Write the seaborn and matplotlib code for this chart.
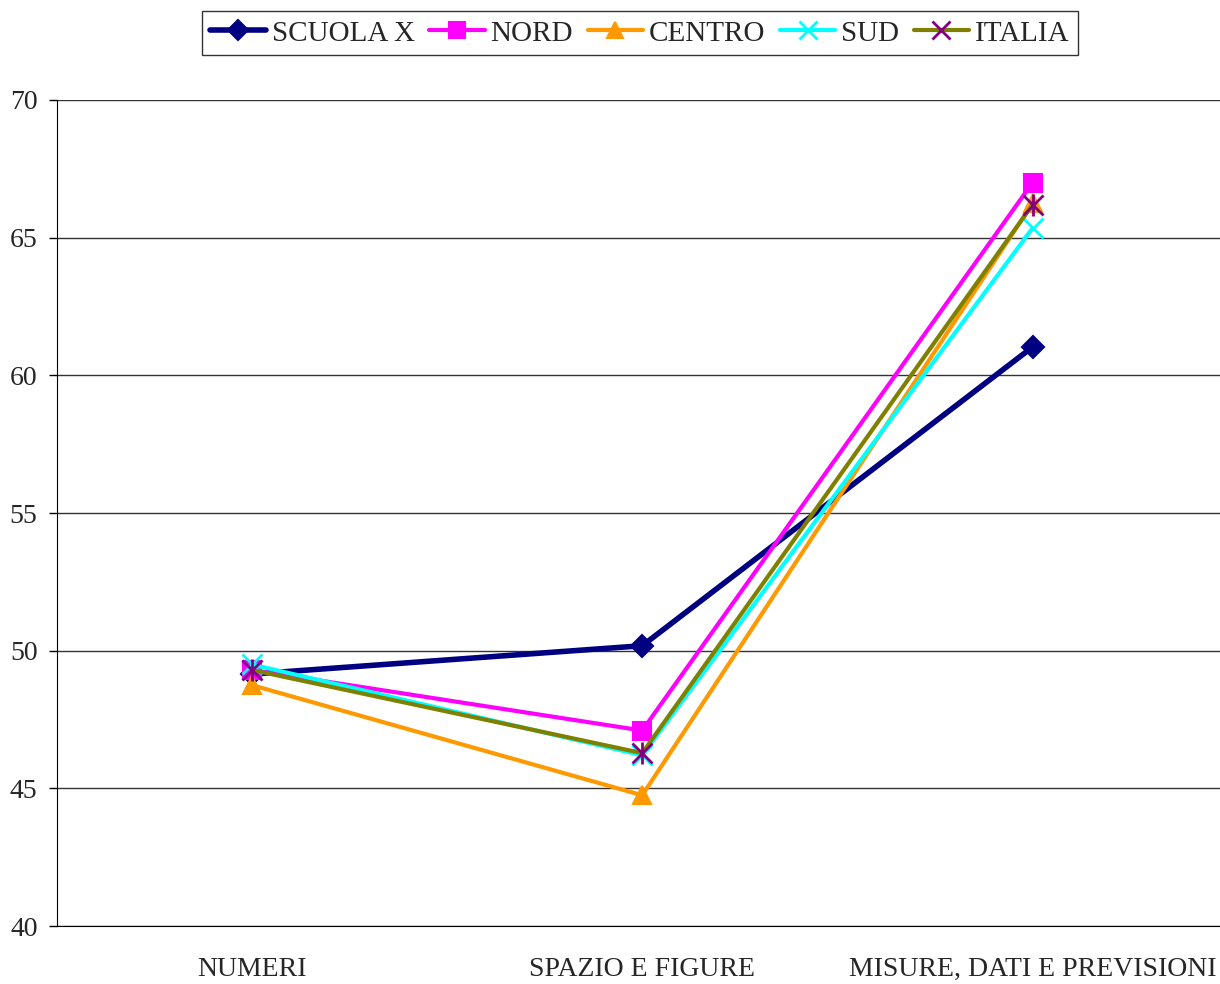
import numpy as np
import pandas as pd
import matplotlib
matplotlib.use("Agg")
import matplotlib.pyplot as plt
import seaborn as sns

# data
categories = ["NUMERI", "SPAZIO E FIGURE", "MISURE, DATI E PREVISIONI"]
series_names = ["SCUOLA X", "NORD", "CENTRO", "SUD", "ITALIA"]
scuola_x = [49.15, 50.18, 61.03]
nord = [49.3, 47.1, 67.0]
centro = [48.75, 44.75, 66.25]
sud = [49.5, 46.2, 65.35]
italia = [49.3, 46.28, 66.2]

values = [scuola_x, nord, centro, sud, italia]
colors = ["#000080", "#FF00FF", "#FF9900", "#00FFFF", "#808000"]
marker_colors = ["#000080", "#FF00FF", "#FF9900", "#00FFFF", "#800080"]
markers = ["D", "s", "^", "x", "x"]

df = pd.DataFrame({
    "categoria": categories * len(series_names),
    "serie": np.repeat(series_names, len(categories)),
    "valore": np.concatenate(values),
})

sns.set_style("white")
plt.rcParams["font.family"] = ["Liberation Serif", "DejaVu Serif"]

fig = plt.figure(figsize=(12.2, 9.84), dpi=100)
ax = fig.add_axes([0.0467, 0.0589, 0.953, 0.8395])

for i, name in enumerate(series_names):
    sub = df[df["serie"] == name]
    lw = 4 if i == 0 else 3
    ms = 11 if i == 0 else 13
    mk = markers[i]
    sns.lineplot(data=sub, x="categoria", y="valore", ax=ax, color=colors[i],
                 linewidth=lw, sort=False, label=name)
    line = ax.lines[-1]
    line.set_marker(mk)
    line.set_markersize(ms if mk != "x" else 15)
    line.set_markerfacecolor(marker_colors[i])
    line.set_markeredgecolor(marker_colors[i])
    line.set_markeredgewidth(1.5 if mk != "x" else 2)
    if name == "ITALIA":
        # asterisk: add vertical stroke over the x marker
        ax.plot(range(len(categories)), values[i], linestyle="none", marker="|",
                markersize=16, markeredgewidth=2, color=marker_colors[i])

ax.set_ylim(40, 70)
ax.set_xlim(-0.499, 2.479)
ax.set_yticks(np.arange(40, 71, 5))
ax.set_xlabel("")
ax.set_ylabel("")
ax.yaxis.grid(True, color="#333333", linewidth=1)
ax.xaxis.grid(False)
for s in ["top", "right"]:
    ax.spines[s].set_visible(False)
ax.spines["left"].set_color("black")
ax.spines["bottom"].set_color("black")
ax.tick_params(axis="y", length=6, width=1, color="black", direction="out",
               labelsize=20, pad=8, left=True)
ax.tick_params(axis="x", length=0, labelsize=20, pad=22)

leg = ax.legend(loc="center", bbox_to_anchor=(0.5246, 0.966), bbox_transform=fig.transFigure,
                ncol=5, frameon=True, fontsize=21, handlelength=1.9, handletextpad=0.2,
                columnspacing=0.5, borderpad=0.3, fancybox=False, markerscale=0.9)
leg.get_frame().set_edgecolor("black")
leg.get_frame().set_linewidth(1)

fig.savefig("out.png", dpi=100)
